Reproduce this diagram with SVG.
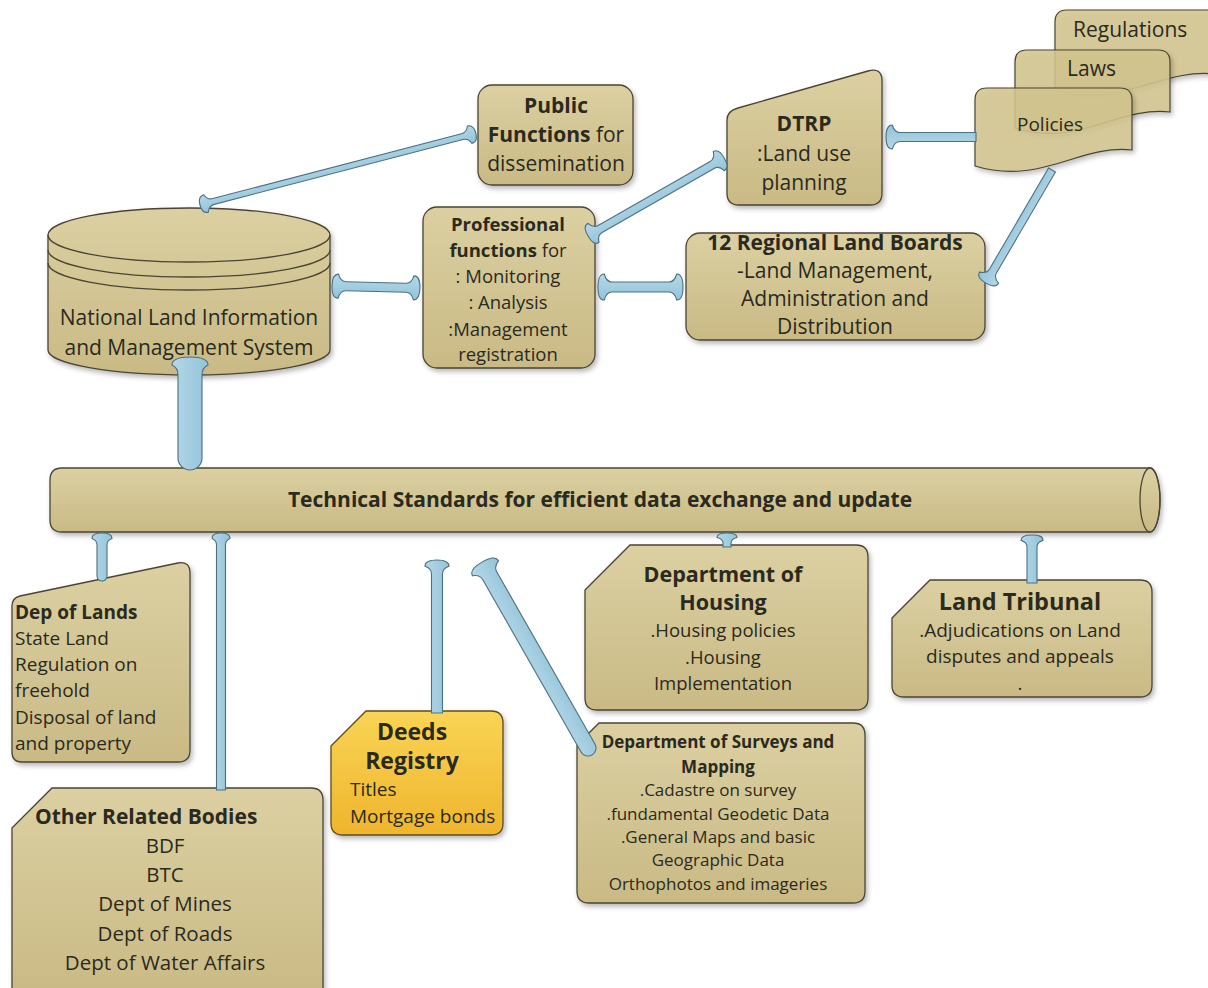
<svg xmlns="http://www.w3.org/2000/svg" width="1208" height="988" viewBox="0 0 1208 988">
  <defs>
    <linearGradient id="tan" x1="0" y1="0" x2="0" y2="1">
      <stop offset="0" stop-color="#dcd0a2"/>
      <stop offset="1" stop-color="#c9ba85"/>
    </linearGradient>
    <linearGradient id="gold" x1="0" y1="0" x2="0" y2="1">
      <stop offset="0" stop-color="#f9d455"/>
      <stop offset="1" stop-color="#efb52d"/>
    </linearGradient>
    <linearGradient id="blue" x1="0" y1="0" x2="0" y2="1">
      <stop offset="0" stop-color="#b4d8e8"/>
      <stop offset="1" stop-color="#93c3d9"/>
    </linearGradient>
    <filter id="shadow" x="-10%" y="-10%" width="130%" height="130%">
      <feDropShadow dx="2" dy="3" stdDeviation="2.5" flood-color="#000" flood-opacity="0.28"/>
    </filter>
  </defs>
  <style>
    .box { fill: url(#tan); stroke: #4a4535; stroke-width: 1.3; filter: url(#shadow); }
    .doc { fill: #d4c58e; fill-opacity: 0.85; stroke: #4a4535; stroke-width: 1.2; filter: url(#shadow); }
    .deeds { fill: url(#gold); stroke: #5e4b1c; stroke-width: 1.3; filter: url(#shadow); }
    .line { fill: none; stroke: #4a4535; stroke-width: 1.3; }
    .arrow { fill: url(#blue); stroke: #4d7080; stroke-width: 1.1; }
    text { font-family: "Open Sans", Lato, "Liberation Sans", sans-serif; fill: #2b2a1e; }
    .b { font-weight: bold; }
    .c { text-anchor: middle; }
  </style>
  <rect width="1208" height="988" fill="#ffffff"/>

  <!-- policy documents -->
  <g id="regulations">
    <path class="doc" d="M1067,10 H1215 V74 C1160,68 1118,110 1055,90 V22 Q1055,10 1067,10 Z"/>
    <text x="1073" y="37" font-size="21">Regulations</text>
  </g>
  <g id="laws">
    <path class="doc" d="M1027,50 H1158 Q1170,50 1170,62 V112 C1118,106 1078,148 1015,128 V62 Q1015,50 1027,50 Z"/>
    <text x="1067" y="76" font-size="21">Laws</text>
  </g>
  <g id="policies">
    <path class="doc" d="M987,88 H1120 Q1132,88 1132,100 V150 C1080,144 1040,186 975,166 V100 Q975,88 987,88 Z"/>
    <text x="1017" y="131" font-size="19">Policies</text>
  </g>

  <!-- upper nodes -->
  <g id="public-functions">
    <rect class="box" x="478" y="85" width="155" height="100" rx="14"/>
    <text class="c" font-size="21"><tspan class="b" x="556" y="113">Public</tspan><tspan x="556" y="142"><tspan class="b">Functions</tspan> for</tspan><tspan x="556" y="171">dissemination</tspan></text>
  </g>
  <g id="dtrp">
    <path class="box" d="M738,108 L868,71 Q882,67 882,81 V193 Q882,205 870,205 H739 Q727,205 727,193 V120 Q727,111 738,108 Z"/>
    <text class="c" font-size="21"><tspan class="b" x="804" y="131">DTRP</tspan><tspan x="804" y="161">:Land use</tspan><tspan x="804" y="190">planning</tspan></text>
  </g>
  <g id="nlims">
    <path class="box" d="M48,235 A141,27 0 0 1 330,235 V350 A141,25 0 0 1 48,350 Z"/>
    <path class="line" d="M48,235 A141,27 0 0 0 330,235"/>
    <path class="line" d="M48,250 A141,27 0 0 0 330,250"/>
    <path class="line" d="M48,263 A141,27 0 0 0 330,263"/>
    <text class="c" font-size="21"><tspan x="189" y="325">National Land Information</tspan><tspan x="189" y="355">and Management System</tspan></text>
  </g>
  <g id="professional-functions">
    <rect class="box" x="423" y="207" width="172" height="161" rx="14"/>
    <text class="c" font-size="18.5"><tspan class="b" x="508" y="231">Professional</tspan><tspan x="508" y="257"><tspan class="b">functions</tspan> for</tspan><tspan x="508" y="283">: Monitoring</tspan><tspan x="508" y="309">: Analysis</tspan><tspan x="508" y="336">:Management</tspan><tspan x="508" y="361">registration</tspan></text>
  </g>
  <g id="regional-land-boards">
    <rect class="box" x="686" y="233" width="299" height="107" rx="14"/>
    <text class="c" font-size="21"><tspan class="b" x="835" y="250">12 Regional Land Boards</tspan><tspan x="835" y="278">-Land Management,</tspan><tspan x="835" y="306">Administration and</tspan><tspan x="835" y="334">Distribution</tspan></text>
  </g>

  <!-- shared data-exchange bus -->
  <g id="technical-standards">
    <path class="box" d="M62,468 H1150 A10,32 0 0 1 1150,532 H62 Q50,532 50,520 V480 Q50,468 62,468 Z"/>
    <ellipse class="line" cx="1150" cy="500" rx="10" ry="32"/>
    <text class="c b" x="600" y="507" font-size="21">Technical Standards for efficient data exchange and update</text>
  </g>

  <!-- lower nodes -->
  <g id="dep-of-lands">
    <path class="box" d="M20,596 L178,563 Q190,561 190,573 V750 Q190,762 178,762 H22 Q12,762 12,752 V606 Q12,598 20,596 Z"/>
    <text font-size="19"><tspan class="b" x="15" y="619">Dep of Lands</tspan><tspan x="15" y="645">State Land</tspan><tspan x="15" y="671">Regulation on</tspan><tspan x="15" y="697">freehold</tspan><tspan x="15" y="724">Disposal of land</tspan><tspan x="15" y="750">and property</tspan></text>
  </g>
  <g id="other-related-bodies">
    <path class="box" d="M12,828 L52,788 H311 Q323,788 323,800 V995 H12 Z"/>
    <text font-size="21" class="b" x="35" y="824">Other Related Bodies</text>
    <text class="c" font-size="20.5"><tspan x="165" y="853">BDF</tspan><tspan x="165" y="882">BTC</tspan><tspan x="165" y="911">Dept of Mines</tspan><tspan x="165" y="941">Dept of Roads</tspan><tspan x="165" y="970">Dept of Water Affairs</tspan></text>
  </g>
  <g id="deeds-registry">
    <path class="deeds" d="M331,746 L366,711 H491 Q503,711 503,723 V823 Q503,835 491,835 H343 Q331,835 331,823 Z"/>
    <text class="c b" font-size="23"><tspan x="412" y="740">Deeds</tspan><tspan x="412" y="769">Registry</tspan></text>
    <text font-size="19"><tspan x="350" y="796">Titles</tspan><tspan x="350" y="823">Mortgage bonds</tspan></text>
  </g>
  <g id="dept-surveys-mapping">
    <path class="box" d="M577,745 L599,723 H853 Q865,723 865,735 V891 Q865,903 853,903 H589 Q577,903 577,891 Z"/>
    <text class="c" font-size="17"><tspan class="b" x="718" y="748">Department of Surveys and</tspan><tspan class="b" x="718" y="773">Mapping</tspan><tspan x="718" y="796">.Cadastre on survey</tspan><tspan x="718" y="820">.fundamental Geodetic Data</tspan><tspan x="718" y="843">.General Maps and basic</tspan><tspan x="718" y="866">Geographic Data</tspan><tspan x="718" y="890">Orthophotos and imageries</tspan></text>
  </g>
  <g id="dept-housing">
    <path class="box" d="M585,590 L630,545 H856 Q868,545 868,557 V698 Q868,710 856,710 H597 Q585,710 585,698 Z"/>
    <text class="c b" font-size="21.5"><tspan x="723" y="582">Department of</tspan><tspan x="723" y="610">Housing</tspan></text>
    <text class="c" font-size="18.5"><tspan x="723" y="637">.Housing policies</tspan><tspan x="723" y="664">.Housing</tspan><tspan x="723" y="690">Implementation</tspan></text>
  </g>
  <g id="land-tribunal">
    <path class="box" d="M892,618 L930,580 H1140 Q1152,580 1152,592 V685 Q1152,697 1140,697 H904 Q892,697 892,685 Z"/>
    <text class="c b" x="1020" y="610" font-size="23.5">Land Tribunal</text>
    <text class="c" font-size="19"><tspan x="1020" y="637">.Adjudications on Land</tspan><tspan x="1020" y="663">disputes and appeals</tspan><tspan x="1020" y="690">.</tspan></text>
  </g>

  <!-- connectors -->
  <g id="connectors">
    <path class="arrow" transform="translate(200,205) rotate(-14.62)" d="M14,-3 H271 Q276.6,-3 278.7,-9 C283.6,-9 285,-5.4 285,0 C285,5.4 283.6,9 278.7,9 Q276.6,3 271,3 H14 Q8.4,3 6.3,9 C1.4,9 0,5.4 0,0 C0,-5.4 1.4,-9 6.3,-9 Q8.4,-3 14,-3 Z"/>
    <path class="arrow" transform="translate(332,286) rotate(1.3)" d="M14,-4.5 H74 Q79.6,-4.5 81.7,-12 C86.6,-12 88,-7.2 88,0 C88,7.2 86.6,12 81.7,12 Q79.6,4.5 74,4.5 H14 Q8.4,4.5 6.3,12 C1.4,12 0,7.2 0,0 C0,-7.2 1.4,-12 6.3,-12 Q8.4,-4.5 14,-4.5 Z"/>
    <path class="arrow" transform="translate(598,287)" d="M14,-5 H71 Q76.6,-5 78.7,-13 C83.6,-13 85,-7.8 85,0 C85,7.8 83.6,13 78.7,13 Q76.6,5 71,5 H14 Q8.4,5 6.3,13 C1.4,13 0,7.8 0,0 C0,-7.8 1.4,-13 6.3,-13 Q8.4,-5 14,-5 Z"/>
    <path class="arrow" transform="translate(588,236) rotate(-29.8)" d="M14,-4 H143 Q148.6,-4 150.7,-11 C155.6,-11 157,-6.6 157,0 C157,6.6 155.6,11 150.7,11 Q148.6,4 143,4 H14 Q8.4,4 6.3,11 C1.4,11 0,6.6 0,0 C0,-6.6 1.4,-11 6.3,-11 Q8.4,-4 14,-4 Z"/>
    <path class="arrow" transform="translate(976,137) rotate(180)" d="M0,-4.5 H76 Q81.6,-4.5 83.7,-12 C88.6,-12 90,-7.2 90,0 C90,7.2 88.6,12 83.7,12 Q81.6,4.5 76,4.5 H0 Z"/>
    <path class="arrow" transform="translate(1052,170) rotate(120.3)" d="M0,-4 H117 Q122.6,-4 124.7,-11 C129.6,-11 131,-6.6 131,0 C131,6.6 129.6,11 124.7,11 Q122.6,4 117,4 H0 Z"/>
    <path class="arrow" transform="translate(190,458) rotate(-90)" d="M0,-12 H83 Q90.2,-12 92.9,-18 C99.2,-18 101,-10.8 101,0 C101,10.8 99.2,18 92.9,18 Q90.2,12 83,12 H0 A12,12 0 0 1 0,-12 Z"/>
    <path class="arrow" transform="translate(102,576) rotate(-90)" d="M0,-5 H31 Q35.8,-5 37.6,-10 C41.8,-10 43,-6 43,0 C43,6 41.8,10 37.6,10 Q35.8,5 31,5 H0 A5,5 0 0 1 0,-5 Z"/>
    <path class="arrow" transform="translate(221,790) rotate(-90)" d="M0,-4.5 H245 Q249.8,-4.5 251.6,-9 C255.8,-9 257,-5.4 257,0 C257,5.4 255.8,9 251.6,9 Q249.8,4.5 245,4.5 H0 Z"/>
    <path class="arrow" transform="translate(437,713) rotate(-90)" d="M0,-5.5 H139 Q144.6,-5.5 146.7,-12 C151.6,-12 153,-7.2 153,0 C153,7.2 151.6,12 146.7,12 Q144.6,5.5 139,5.5 H0 Z"/>
    <path class="arrow" transform="translate(588,748) rotate(-119.7)" d="M0,-8 H198 Q204.4,-8 206.8,-15 C212.4,-15 214,-9 214,0 C214,9 212.4,15 206.8,15 Q204.4,8 198,8 H0 A8,8 0 0 1 0,-8 Z"/>
    <path class="arrow" transform="translate(727,547) rotate(-90)" d="M0,-4 H4 Q8,-4 9.5,-10 C13,-10 14,-6 14,0 C14,6 13,10 9.5,10 Q8,4 4,4 H0 Z"/>
    <path class="arrow" transform="translate(1032,583) rotate(-90)" d="M0,-5 H36 Q40.8,-5 42.6,-11 C46.8,-11 48,-6.6 48,0 C48,6.6 46.8,11 42.6,11 Q40.8,5 36,5 H0 Z"/>
  </g>
</svg>
